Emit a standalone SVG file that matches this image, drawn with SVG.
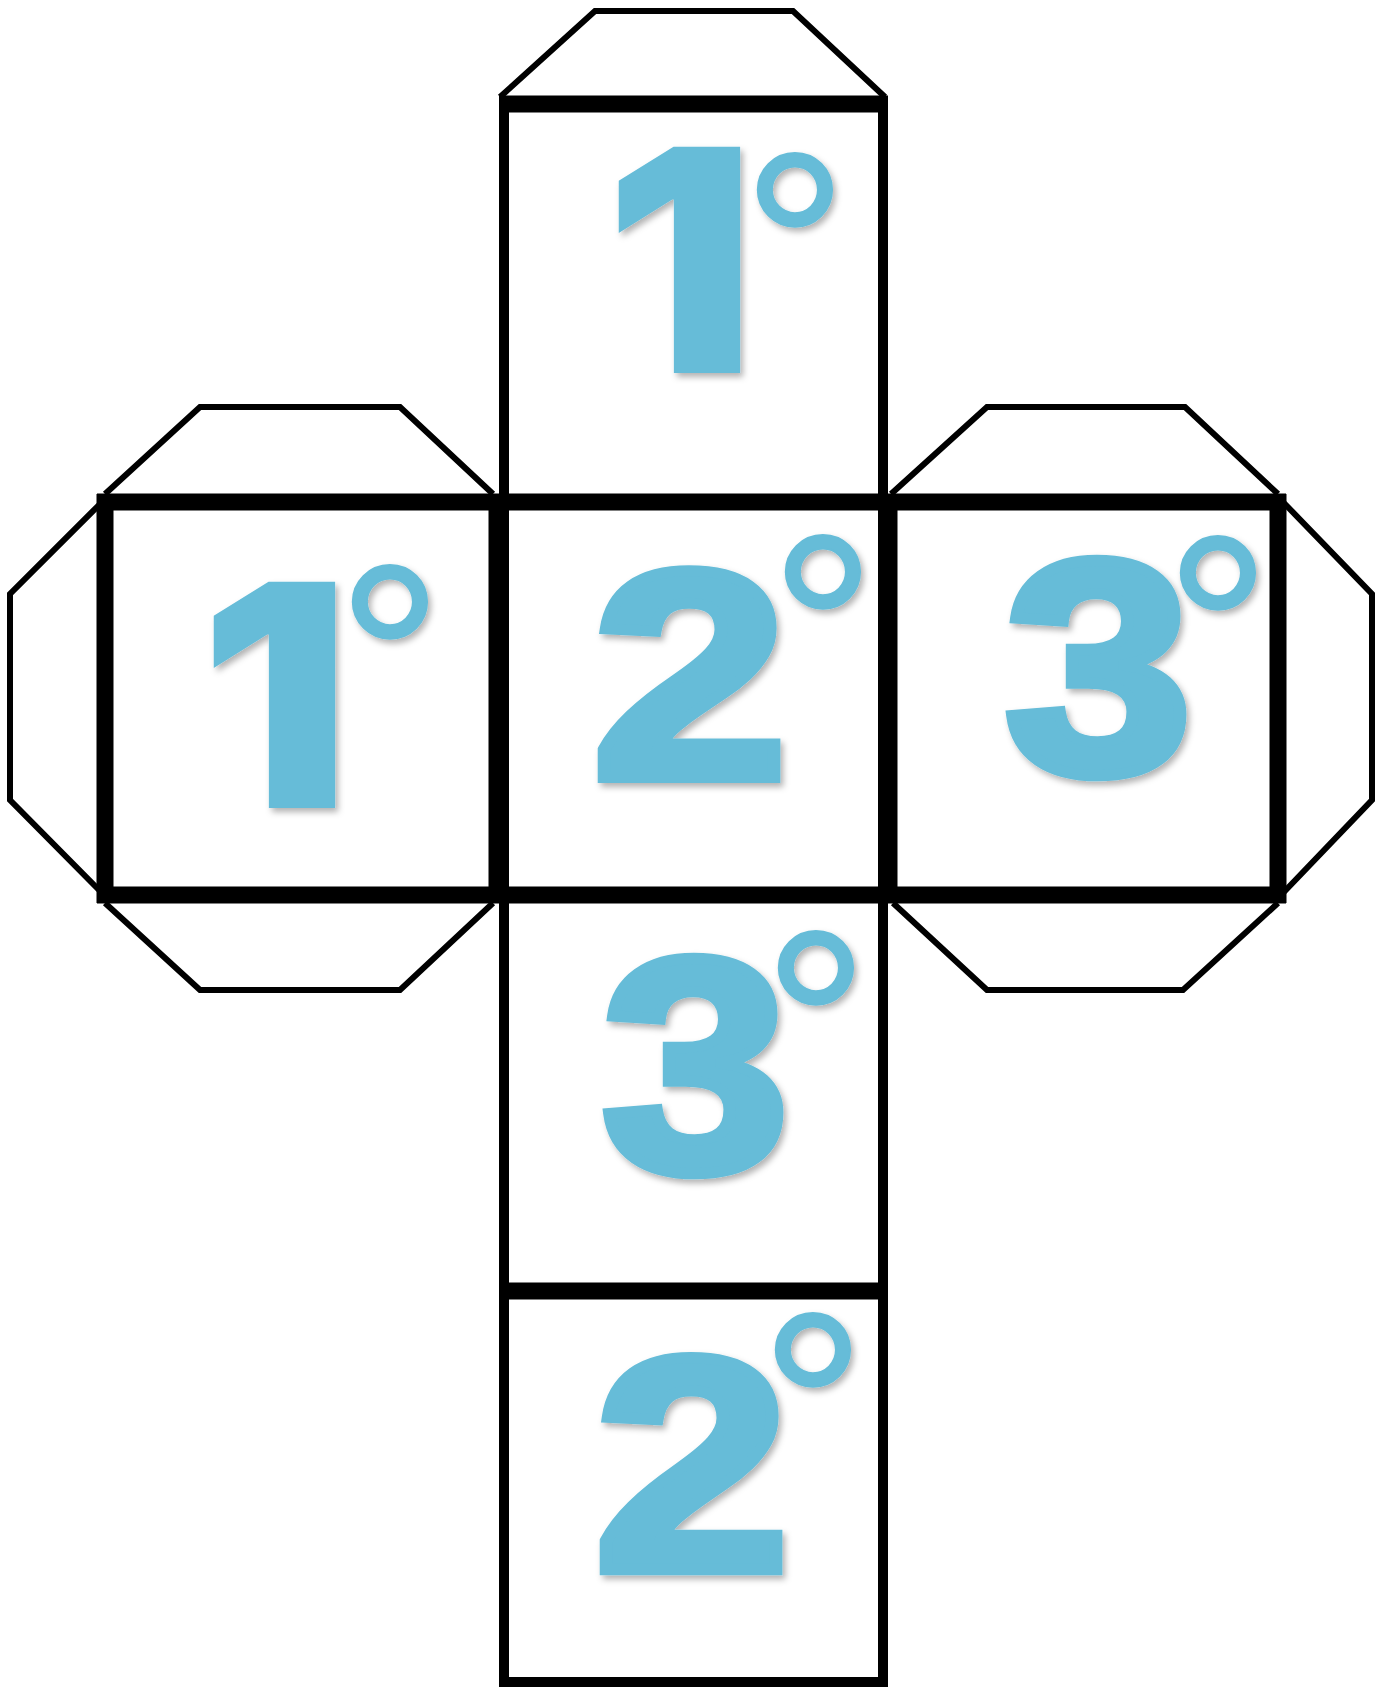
<svg xmlns="http://www.w3.org/2000/svg" width="1378" height="1689" viewBox="0 0 1378 1689">
<style>
.flap{fill:none;stroke:#000;stroke-width:6;stroke-linejoin:miter}
.thick{stroke:#000;stroke-width:17}
.col{stroke:#000;stroke-width:10}
.d{font-family:"Liberation Sans",Arial,sans-serif;font-weight:700;font-size:74px;fill:#66BCD8;stroke:#66BCD8;stroke-width:2.75;stroke-linejoin:miter;text-anchor:middle}
.one{font-family:Inter,"Liberation Sans",sans-serif;font-weight:900;font-size:311px;fill:#66BCD8}
.o{font-family:"Liberation Sans",Arial,sans-serif;font-weight:400;font-size:265px;fill:#66BCD8;stroke:#66BCD8;stroke-width:2;text-anchor:middle}
</style>
<defs>
<filter id="sh" x="-10%" y="-10%" width="130%" height="130%">
<feDropShadow dx="3" dy="4" stdDeviation="3" flood-color="#000" flood-opacity="0.3"/>
</filter>
</defs>
<rect width="1378" height="1689" fill="#fff"/>
<g id="flaps">
<polyline class="flap" points="500,97 595,11 793,11 885,97"/>
<polyline class="flap" points="105,494 200,407 400,407 493,494"/>
<polyline class="flap" points="891,494 987,407 1185,407 1278,494"/>
<polyline class="flap" points="105,903 200,990 400,990 493,903"/>
<polyline class="flap" points="893,903 987,990 1183,990 1278,903"/>
<polyline class="flap" points="102,502 10,594 10,800 102,893"/>
<polyline class="flap" points="1283,502 1372,594 1372,800 1283,893"/>
</g>
<g id="connectors">
<line class="col" x1="504" y1="97" x2="504" y2="1687"/>
<line class="col" x1="883" y1="97" x2="883" y2="1687"/>
<line class="col" x1="499" y1="1682" x2="888" y2="1682"/>
<line class="thick" x1="499" y1="104" x2="888" y2="104"/>
<line class="thick" x1="97" y1="502" x2="1286" y2="502"/>
<line class="thick" x1="97" y1="895" x2="1286" y2="895"/>
<line class="thick" x1="499" y1="1291" x2="888" y2="1291"/>
<line class="thick" x1="105" y1="494" x2="105" y2="903"/>
<line class="thick" x1="497" y1="494" x2="497" y2="903"/>
<line class="thick" x1="889" y1="494" x2="889" y2="903"/>
<line class="thick" x1="1278" y1="494" x2="1278" y2="903"/>
</g>
<g filter="url(#sh)">
<g id="face-top">
<text class="one" transform="translate(604,373) scale(1.08,1)">1</text>
<text class="o" x="795" y="338">°</text>
</g>
<g id="face-left">
<text class="one" transform="translate(199,808) scale(1.08,1)">1</text>
<text class="o" x="390" y="750">°</text>
</g>
<g id="face-center">
<text class="d" transform="translate(690,777.5) scale(4.76,4)">2</text>
<text class="o" x="823" y="720">°</text>
</g>
<g id="face-right">
<text class="d" transform="translate(1098.5,772.3) scale(4.56,4.1)">3</text>
<text class="o" x="1218" y="721">°</text>
</g>
<g id="face-bottom1">
<text class="d" transform="translate(695.5,1170.3) scale(4.56,4.1)">3</text>
<text class="o" x="816" y="1116">°</text>
</g>
<g id="face-bottom2">
<text class="d" transform="translate(692,1569.5) scale(4.76,4.1)">2</text>
<text class="o" x="813" y="1498">°</text>
</g>
</g>
</svg>
